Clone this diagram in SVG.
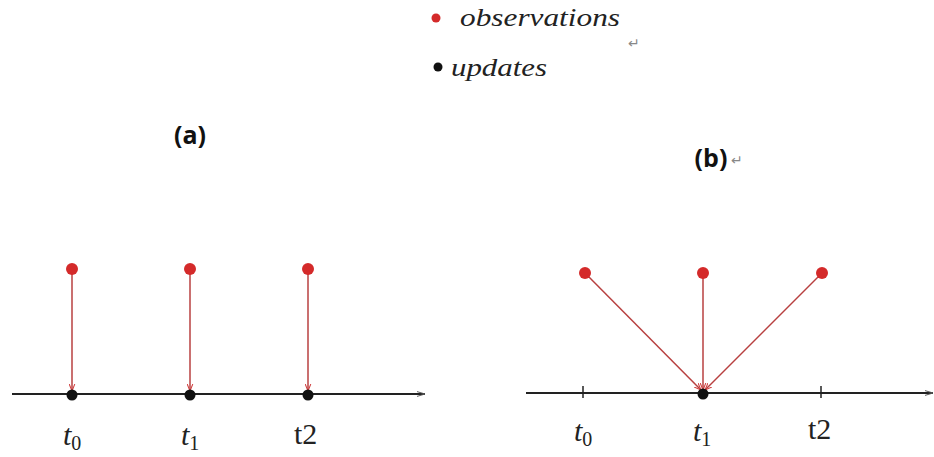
<svg xmlns="http://www.w3.org/2000/svg" width="934" height="457" viewBox="0 0 934 457">
<defs>
<marker id="ah" viewBox="0 0 10 10" refX="10" refY="5" markerWidth="7" markerHeight="7" orient="auto" markerUnits="userSpaceOnUse">
<path d="M0,1 L10,5 L0,9" fill="none" stroke="#d04040" stroke-width="1.5"/>
</marker>
<marker id="axh" viewBox="0 0 10 10" refX="10" refY="5" markerWidth="12" markerHeight="8" orient="auto" markerUnits="userSpaceOnUse">
<path d="M0,2 L10,5 L0,8" fill="none" stroke="#555" stroke-width="1.2"/>
</marker>
</defs>
<style>
.obs{fill:#d42a2a}
.upd{fill:#111}
.edge{stroke:#b84040;stroke-width:1.5;fill:none}
.axis{stroke:#222;stroke-width:2;fill:none}
.tick{stroke:#222;stroke-width:1.5}
.leg{font-family:"Liberation Serif",serif;font-style:italic;font-size:25px;fill:#222}
.ttl{font-family:"Open Sans","Liberation Sans",sans-serif;font-weight:bold;font-size:25px;fill:#111}
.tl{font-family:"Liberation Serif",serif;font-size:30px;fill:#222}
.ret{font-family:"DejaVu Sans",sans-serif;font-size:14px;fill:#888}
</style>
<rect width="934" height="457" fill="#fff"/>
<g id="legend">
<circle class="obs" cx="436" cy="18" r="4.5"/>
<text class="leg" x="460" y="26" textLength="160" lengthAdjust="spacingAndGlyphs">observations</text>
<text class="ret" x="628" y="48">↵</text>
<circle class="upd" cx="438" cy="67" r="4.5"/>
<text class="leg" x="451" y="76" textLength="96" lengthAdjust="spacingAndGlyphs">updates</text>
</g>
<g id="title-a"><text class="ttl" x="190" y="144" text-anchor="middle">(a)</text></g>
<g id="title-b"><text class="ttl" x="711" y="167" text-anchor="middle">(b)</text><text class="ret" x="731" y="165">↵</text></g>
<g id="axes">
<line class="axis" x1="12" y1="394" x2="425" y2="394" marker-end="url(#axh)"/>
<line class="axis" x1="526" y1="393" x2="933" y2="393" marker-end="url(#axh)"/>
<line class="tick" x1="583" y1="386" x2="583" y2="398"/>
<line class="tick" x1="821" y1="386" x2="821" y2="398"/>
</g>
<g id="connectors">
<line class="edge" x1="72" y1="269" x2="72" y2="391" marker-end="url(#ah)"/>
<line class="edge" x1="190" y1="269" x2="190" y2="391" marker-end="url(#ah)"/>
<line class="edge" x1="308" y1="269" x2="308" y2="391" marker-end="url(#ah)"/>
<line class="edge" x1="585" y1="273" x2="701" y2="390" marker-end="url(#ah)"/>
<line class="edge" x1="703" y1="273" x2="703" y2="390" marker-end="url(#ah)"/>
<line class="edge" x1="822" y1="273" x2="705" y2="390" marker-end="url(#ah)"/>
</g>
<g id="a-obs0"><circle class="obs" cx="72" cy="269" r="6"/></g>
<g id="a-obs1"><circle class="obs" cx="190" cy="269" r="6"/></g>
<g id="a-obs2"><circle class="obs" cx="308" cy="269" r="6"/></g>
<g id="a-upd0"><circle class="upd" cx="72" cy="395" r="5.5"/></g>
<g id="a-upd1"><circle class="upd" cx="190" cy="395" r="5.5"/></g>
<g id="a-upd2"><circle class="upd" cx="308" cy="395" r="5.5"/></g>
<g id="b-obs0"><circle class="obs" cx="585" cy="273" r="6"/></g>
<g id="b-obs1"><circle class="obs" cx="703" cy="273" r="6"/></g>
<g id="b-obs2"><circle class="obs" cx="822" cy="273" r="6"/></g>
<g id="b-upd1"><circle class="upd" cx="703" cy="394" r="5.5"/></g>
<g id="labels-a">
<text class="tl" x="63" y="445"><tspan font-style="italic">t</tspan><tspan font-size="20" dy="5">0</tspan></text>
<text class="tl" x="181" y="445"><tspan font-style="italic">t</tspan><tspan font-size="20" dy="5">1</tspan></text>
<text class="tl" x="294" y="444" font-size="25">t2</text>
</g>
<g id="labels-b">
<text class="tl" x="574" y="441"><tspan font-style="italic">t</tspan><tspan font-size="20" dy="5">0</tspan></text>
<text class="tl" x="693" y="441"><tspan font-style="italic">t</tspan><tspan font-size="20" dy="5">1</tspan></text>
<text class="tl" x="808" y="439" font-size="25">t2</text>
</g>
</svg>
